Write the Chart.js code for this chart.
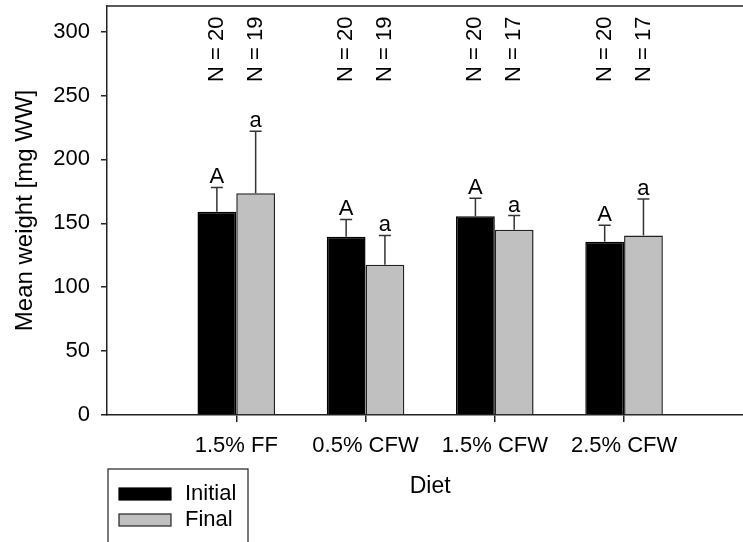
<!DOCTYPE html>
<html>
<head>
<meta charset="utf-8">
<script src="https://cdn.jsdelivr.net/npm/chart.js@4"></script>
<style>
  html, body { margin: 0; padding: 0; background: #fff; overflow: hidden; }
  #wrap { width: 743px; height: 542px; position: relative; }
</style>
</head>
<body>
<div id="wrap"><canvas id="chart"></canvas></div>
<script>
const categories = ['1.5% FF', '0.5% CFW', '1.5% CFW', '2.5% CFW']
const initialMean = [159, 139.5, 155.5, 135.5]
const initialErr = [19, 13.5, 14, 13]
const finalMean = [173.5, 117.5, 145, 140.5]
const finalErr = [48.5, 23, 11, 28.5]
const initialN = [20, 20, 20, 20]
const finalN = [19, 19, 17, 17]
const initialLetters = ['A', 'A', 'A', 'A']
const finalLetters = ['a', 'a', 'a', 'a']
const yTicks = [0, 50, 100, 150, 200, 250, 300]
const yTitle = 'Mean weight [mg WW]'
const xTitle = 'Diet'

const FONT = '"Liberation Sans", Arial, Helvetica, sans-serif'
const AXIS = '#222'

Chart.defaults.font.family = FONT
Chart.defaults.font.size = 22
Chart.defaults.color = '#000'

const toPoints = vals => vals.map((v, i) => ({ x: i + 1, y: v }))

// error bars, significance letters and N labels
const annotations = {
  id: 'annotations',
  afterDatasetsDraw(chart) {
    const ctx = chart.ctx
    const yScale = chart.scales.y
    const area = chart.chartArea
    ctx.save()
    chart.data.datasets.forEach((ds, di) => {
      const meta = chart.getDatasetMeta(di)
      meta.data.forEach((bar, i) => {
        const top = yScale.getPixelForValue(ds.data[i].y + ds.errors[i])
        ctx.strokeStyle = '#333'
        ctx.lineWidth = 1.5
        ctx.beginPath()
        ctx.moveTo(bar.x, bar.y)
        ctx.lineTo(bar.x, top)
        ctx.moveTo(bar.x - 6, top)
        ctx.lineTo(bar.x + 6, top)
        ctx.stroke()

        ctx.fillStyle = '#000'
        ctx.font = '22px ' + FONT
        ctx.textAlign = 'center'
        ctx.textBaseline = 'alphabetic'
        ctx.fillText(ds.letters[i], bar.x, top - 4)

        ctx.save()
        ctx.translate(bar.x, area.top + 76)
        ctx.rotate(-Math.PI / 2)
        ctx.textAlign = 'left'
        ctx.textBaseline = 'middle'
        ctx.fillText('N = ' + ds.n[i], 0, 0)
        ctx.restore()
      })
    })
    ctx.restore()
  },
  afterDraw(chart) {
    const ctx = chart.ctx
    const area = chart.chartArea
    const xScale = chart.scales.x
    ctx.save()
    // top frame line
    ctx.strokeStyle = AXIS
    ctx.lineWidth = 1.5
    ctx.beginPath()
    ctx.moveTo(area.left, area.top)
    ctx.lineTo(area.right, area.top)
    ctx.stroke()

    // x axis title
    ctx.fillStyle = '#000'
    ctx.font = '23px ' + FONT
    ctx.textAlign = 'center'
    ctx.textBaseline = 'middle'
    ctx.fillText(xTitle, xScale.getPixelForValue(2.5), area.bottom + 72)

    // legend box
    ctx.font = '22px ' + FONT
    const lx = area.left + 1
    const ly = area.bottom + 54
    ctx.lineWidth = 1.2
    ctx.strokeStyle = '#222'
    ctx.strokeRect(lx, ly, 140, 100)
    chart.data.datasets.forEach((ds, i) => {
      const sy = ly + 19 + i * 26
      ctx.fillStyle = ds.backgroundColor
      ctx.fillRect(lx + 11, sy, 52, 12)
      ctx.strokeStyle = ds.borderColor
      ctx.strokeRect(lx + 11, sy, 52, 12)
      ctx.fillStyle = '#000'
      ctx.textAlign = 'left'
      ctx.fillText(ds.label, lx + 77, sy + 6)
    })
    ctx.restore()
  }
}

new Chart(document.getElementById('chart'), {
  type: 'bar',
  data: {
    datasets: [
      {
        label: 'Initial',
        data: toPoints(initialMean),
        errors: initialErr,
        letters: initialLetters,
        n: initialN,
        backgroundColor: '#000000',
        borderColor: '#000000',
        borderWidth: 1.5,
      },
      {
        label: 'Final',
        data: toPoints(finalMean),
        errors: finalErr,
        letters: finalLetters,
        n: finalN,
        backgroundColor: '#c0c0c0',
        borderColor: '#222222',
        borderWidth: 1.5,
      },
    ]
  },
  options: {
    responsive: true,
    maintainAspectRatio: false,
    animation: false,
    categoryPercentage: 0.6,
    barPercentage: 1.0,
    layout: { padding: { top: 6, right: 0, left: 0, bottom: 0 } },
    plugins: {
      legend: { display: false },
      tooltip: { enabled: false },
    },
    scales: {
      x: {
        type: 'linear',
        offset: false,
        min: 0,
        max: 4.92,
        afterBuildTicks: scale => {
          scale.ticks = categories.map((c, i) => ({ value: i + 1 }))
        },
        afterFit: scale => {
          scale.height = 127
          scale.paddingLeft = 0
          scale.paddingRight = 0
        },
        ticks: {
          padding: 11,
          maxRotation: 0,
          autoSkip: false,
          callback: v => categories[v - 1] || '',
        },
        grid: {
          offset: false,
          drawOnChartArea: false,
          drawTicks: true,
          tickLength: 7,
          color: AXIS,
          lineWidth: 1.5,
        },
        border: { display: true, color: AXIS, width: 1.5 },
      },
      y: {
        min: 0,
        max: 320,
        afterBuildTicks: scale => {
          scale.ticks = yTicks.map(v => ({ value: v }))
        },
        afterFit: scale => {
          scale.width = 107
          scale.paddingTop = 0
          scale.paddingBottom = 0
        },
        ticks: { padding: 11 },
        grid: {
          drawOnChartArea: false,
          drawTicks: true,
          tickLength: 6,
          color: AXIS,
          lineWidth: 1.5,
        },
        border: { display: true, color: AXIS, width: 1.5 },
        title: {
          display: true,
          text: yTitle,
          font: { size: 24 },
          padding: { top: 11, bottom: 0 },
        },
      },
    },
  },
  plugins: [annotations],
})
</script>
</body>
</html>
